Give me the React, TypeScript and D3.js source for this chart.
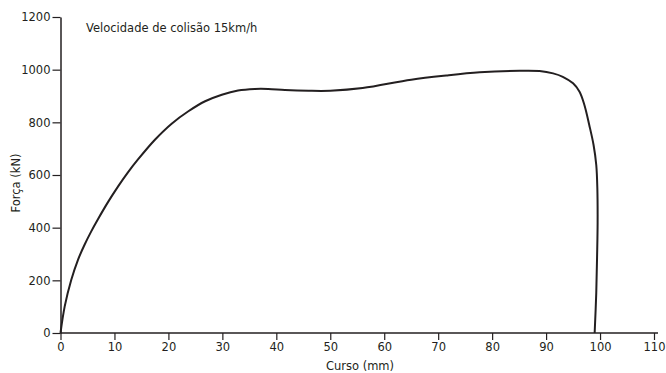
import React, { useEffect, useRef } from 'react';
import * as d3 from 'd3';

// Curve: stroke (mm) vs force (kN)
const curso = [0, 0.78, 2, 3.24, 4.48, 5.7, 6.94, 8.8, 10.65, 12.5, 14.4, 17.5, 20.6, 23.7, 26.8, 29.9, 32.9, 36, 38.5, 41.6, 46, 50, 56, 65, 71.5, 77.7, 85.1, 88.8, 91.3, 93.1, 95, 96.2, 97.1, 98, 98.8, 99.3, 99.5, 99.55, 99.45, 99.3, 99.0];
const forca = [0, 101, 202, 278, 336, 386, 432, 497, 556, 610, 660, 734, 795, 842, 880, 905, 921, 927, 927, 923, 920, 920, 930, 962, 978, 990, 996, 995, 986, 973, 948, 916, 866, 790, 714, 638, 549, 420, 290, 153, 0];

const xTicks = [0, 10, 20, 30, 40, 50, 60, 70, 80, 90, 100, 110];
const yTicks = [0, 200, 400, 600, 800, 1000, 1200];

const W = 666;
const H = 373;
const FONT = '"DejaVu Sans", sans-serif';
const FS = 11.5;
const INK = '#231f20';

const App: React.FC = () => {
  const svgRef = useRef<SVGSVGElement>(null);

  useEffect(() => {
    if (!svgRef.current) return;
    const svg = d3.select(svgRef.current);
    svg.selectAll('*').remove();

    const x = d3.scaleLinear().domain([0, 110]).range([60.5, 654]);
    const y = d3.scaleLinear().domain([0, 1200]).range([333, 17]);

    // y axis
    const yAxis = svg.append('g').attr('transform', `translate(${x(0)},0)`)
      .call(d3.axisLeft(y).tickValues(yTicks).tickFormat(d3.format('d'))
        .tickSize(8).tickPadding(2).tickSizeOuter(0));
    yAxis.select('.domain').attr('stroke', INK).attr('stroke-width', 1.5);
    yAxis.selectAll('.tick line').attr('stroke', INK).attr('stroke-width', 1.2);
    yAxis.selectAll('.tick text')
      .attr('font-family', FONT).attr('font-size', FS).attr('fill', INK);

    // x axis
    const xAxis = svg.append('g').attr('transform', `translate(0,${y(0)})`)
      .call(d3.axisBottom(x).tickValues(xTicks).tickFormat(d3.format('d'))
        .tickSize(7).tickPadding(3).tickSizeOuter(0));
    xAxis.select('.domain').attr('stroke', INK).attr('stroke-width', 1.5)
      .attr('d', `M${x(0)},0H${x(110) + 4}`);
    xAxis.selectAll('.tick line').attr('stroke', INK).attr('stroke-width', 1.2);
    xAxis.selectAll('.tick text')
      .attr('font-family', FONT).attr('font-size', FS).attr('fill', INK);

    // curve
    const pts: [number, number][] = curso.map((c, i) => [c, forca[i]]);
    const line = d3.line<[number, number]>()
      .x(d => x(d[0]))
      .y(d => y(d[1]))
      .curve(d3.curveCatmullRom.alpha(0.5));
    svg.append('path')
      .attr('d', line(pts))
      .attr('fill', 'none')
      .attr('stroke', INK)
      .attr('stroke-width', 2);

    // titles
    svg.append('text')
      .attr('x', 86).attr('y', 32)
      .attr('font-family', FONT).attr('font-size', FS)
      .attr('fill', INK)
      .text('Velocidade de colisão 15km/h');

    svg.append('text')
      .attr('x', 360).attr('y', 370)
      .attr('text-anchor', 'middle')
      .attr('font-family', FONT).attr('font-size', FS)
      .attr('fill', INK)
      .text('Curso (mm)');

    svg.append('text')
      .attr('transform', `translate(20,183) rotate(-90)`)
      .attr('text-anchor', 'middle')
      .attr('font-family', FONT).attr('font-size', FS)
      .attr('fill', INK)
      .text('Força (kN)');
  }, []);

  return (
    <svg
      ref={svgRef}
      width={W}
      height={H}
      viewBox={`0 0 ${W} ${H}`}
      style={{ position: 'absolute', left: 0, top: 0, background: '#fff' }}
    />
  );
};

export default App;
